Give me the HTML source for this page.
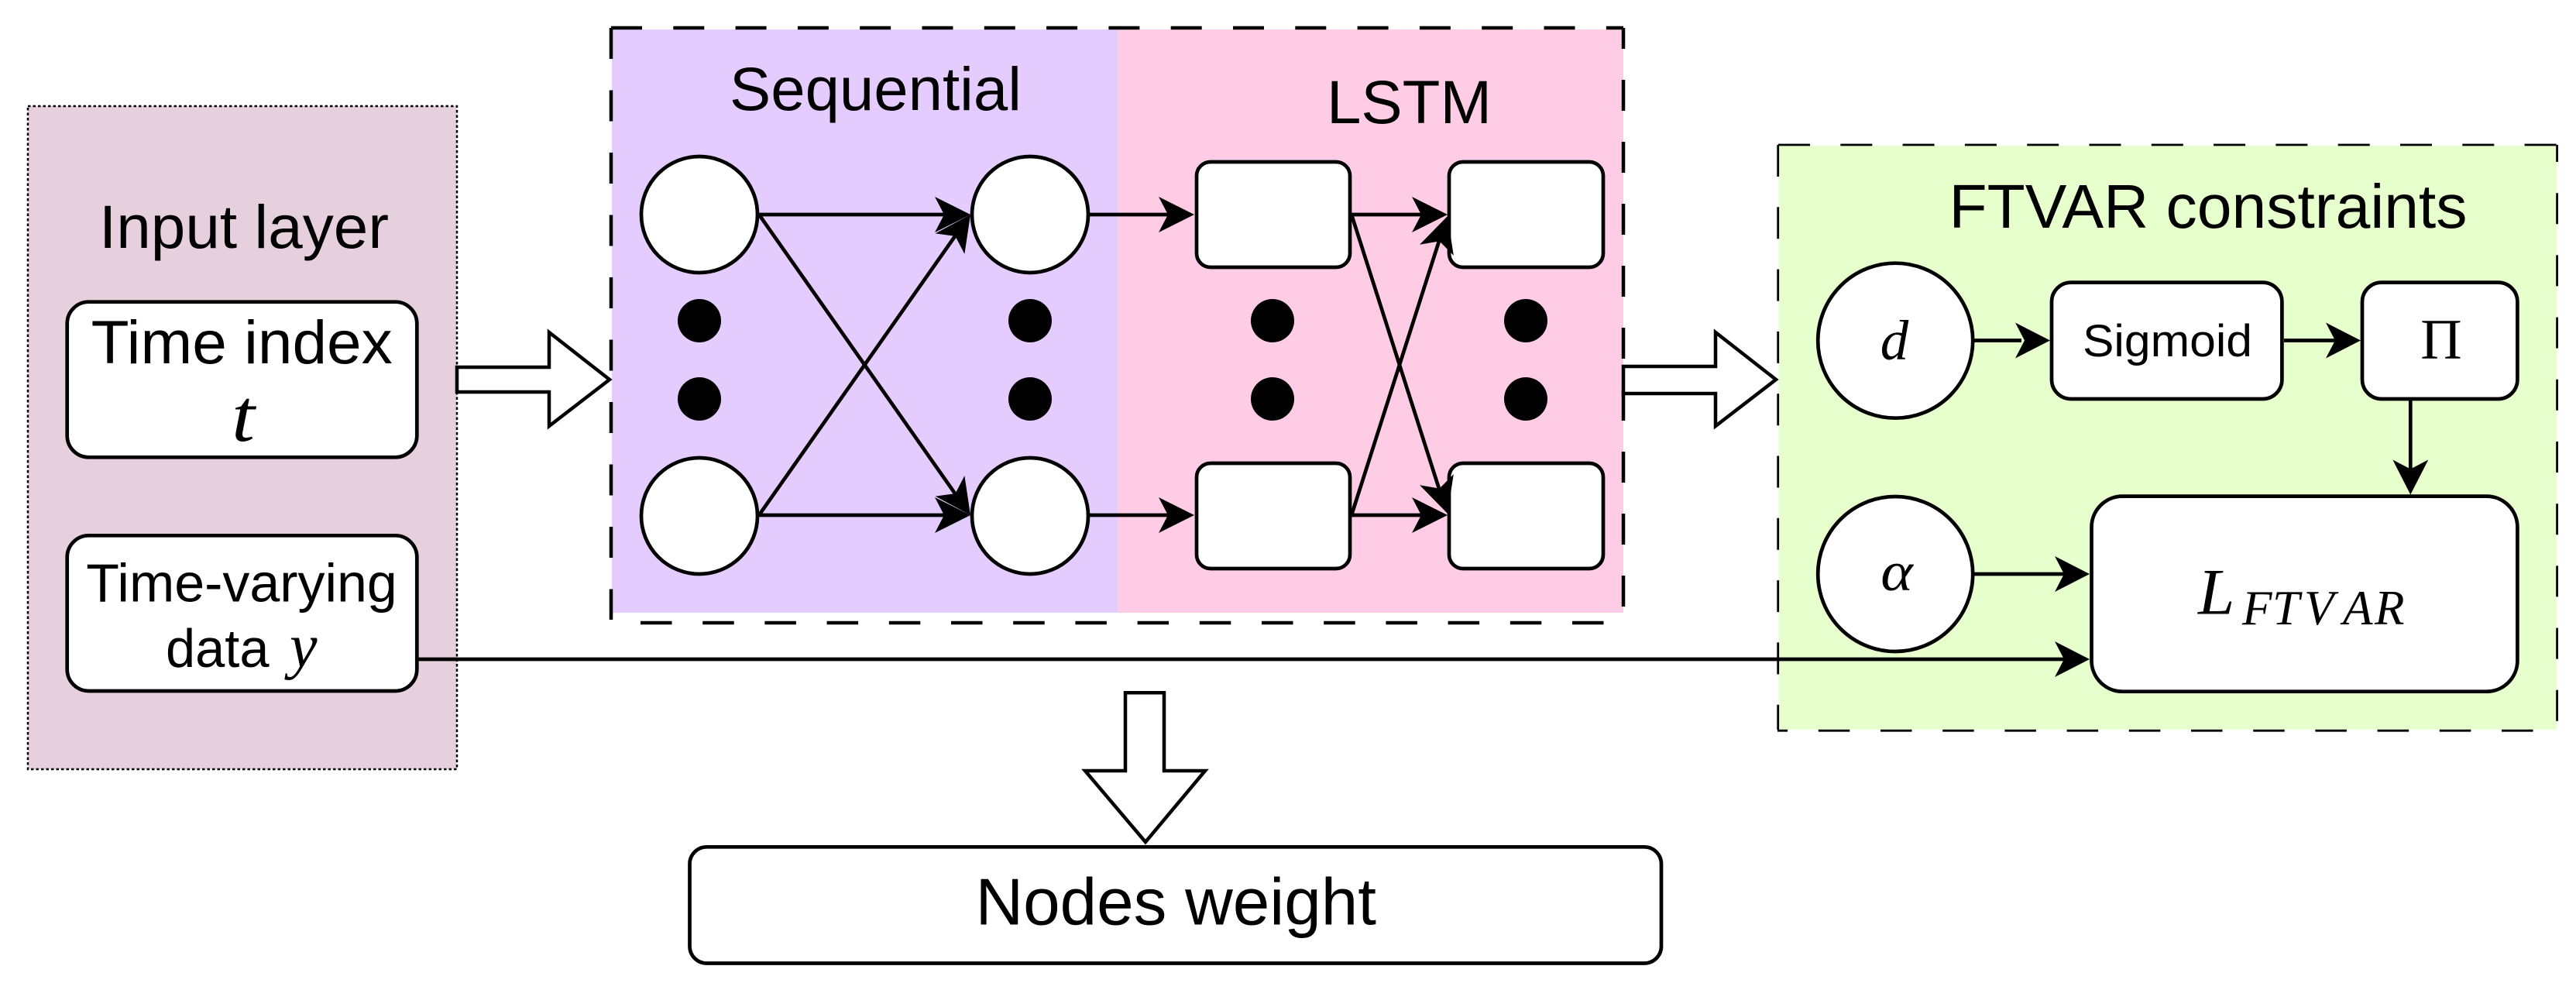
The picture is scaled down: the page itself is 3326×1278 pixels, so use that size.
<!DOCTYPE html>
<html><head><meta charset="utf-8"><style>
html,body{margin:0;padding:0;background:#fff}
svg{display:block}
text{font-family:"Liberation Sans",sans-serif;fill:#000}
.m{font-family:"Liberation Serif",serif;font-style:italic}
</style></head><body>
<svg width="3326" height="1278" viewBox="0 0 3326 1278" xmlns="http://www.w3.org/2000/svg">
<defs>
<path id="a" d="M0 0L-46 -23L-34 0L-46 23Z" fill="#000"/>
<path id="b" d="M0 0L-45 -23L-33 0L-45 23Z" fill="#000"/>
</defs>
<rect width="3326" height="1278" fill="#fff"/>
<!-- panels -->
<rect x="36" y="137" width="554" height="856" fill="#E6D0DE" stroke="#000" stroke-width="2.5" stroke-dasharray="3.5 3"/>
<rect x="790" y="38" width="653" height="753" fill="#E5CCFF"/>
<rect x="1443" y="38" width="653" height="753" fill="#FFCCE6"/>
<rect x="2296.500" y="188" width="1004.500" height="753.700" fill="#E6FFCC"/>
<g stroke="#000" stroke-width="2.800" fill="none">
<path d="M2296 187H3302" stroke-dasharray="41 39.3"/>
<path d="M3301.600 187V942" stroke-dasharray="40 40.2" stroke-dashoffset="18"/>
<path d="M2295 943.200H3302" stroke-dasharray="40.5 39.7" stroke-dashoffset="27.400"/>
<path d="M2295.700 187V942" stroke-dasharray="41 39.3"/>
</g>
<g stroke="#000" stroke-width="4.500" fill="none">
<path d="M789 36H2096" stroke-dasharray="40 40.3"/>
<path d="M2096 36V800" stroke-dasharray="40 40" stroke-dashoffset="13"/>
<path d="M827 804H2096" stroke-dasharray="40.5 39.7"/>
<path d="M789 36V800" stroke-dasharray="40 40.5"/>
</g>
<!-- input layer -->
<text x="128" y="320" font-size="79" textLength="374" lengthAdjust="spacingAndGlyphs">Input layer</text>
<g fill="#fff" stroke="#000" stroke-width="4.700">
<rect x="86.700" y="389.700" width="451.600" height="200.600" rx="28"/>
<rect x="86.700" y="691.300" width="451.600" height="200.700" rx="28"/>
</g>
<text x="117.700" y="469" font-size="79" textLength="389" lengthAdjust="spacingAndGlyphs">Time index</text>
<text class="m" font-size="96" text-anchor="middle" transform="translate(314 569) scale(1.12 1)">t</text>
<text x="111.300" y="776.500" font-size="70" textLength="401.500" lengthAdjust="spacingAndGlyphs">Time-varying</text>
<text x="214" y="861" font-size="70" textLength="133.500" lengthAdjust="spacingAndGlyphs">data</text>
<text class="m" x="374" y="861" font-size="80">y</text>
<!-- hollow arrows -->
<g fill="#fff" stroke="#000" stroke-width="4.500" stroke-miterlimit="10">
<path d="M590 474H709V429L787 490L709 550V506H590Z"/>
<path d="M2096 473H2215V429L2293 490L2215 550V508H2096Z"/>
<path d="M1453 894.300H1503V995H1556L1479 1087L1401 995H1453Z"/>
</g>
<!-- sequential connections -->
<g stroke="#000" stroke-width="4.700" fill="none">
<path d="M980 277H1225M980 665H1225M980 277L1240 647M980 665L1240 295"/>
<path d="M1407 277H1515M1407 665H1515"/>
<path d="M1745 277H1840M1745 665H1840M1745 277L1860 637M1745 665L1860 305"/>
</g>
<g fill="#fff" stroke="#000" stroke-width="4.700">
<circle cx="903" cy="277" r="75"/><circle cx="903" cy="666" r="75"/>
<circle cx="1330" cy="277" r="75"/><circle cx="1330" cy="666" r="75"/>
<rect x="1545" y="209" width="198" height="136" rx="18"/>
<rect x="1545" y="598" width="198" height="136" rx="18"/>
<rect x="1871" y="209" width="199" height="136" rx="18"/>
<rect x="1871" y="598" width="199" height="136" rx="18"/>
</g>
<use href="#a" transform="translate(1253 277)"/>
<use href="#a" transform="translate(1253 665)"/>
<use href="#a" transform="translate(1253 277) rotate(-54.9)"/>
<use href="#a" transform="translate(1253 665) rotate(54.9)"/>
<use href="#a" transform="translate(1542 277)"/>
<use href="#a" transform="translate(1542 665)"/>
<use href="#a" transform="translate(1869 277)"/>
<use href="#a" transform="translate(1869 665)"/>
<use href="#a" transform="translate(1869 279) rotate(-72.2)"/>
<use href="#a" transform="translate(1869 663) rotate(72.2)"/>
<g fill="#000">
<circle cx="903" cy="414" r="28"/><circle cx="903" cy="515" r="28"/>
<circle cx="1330" cy="414" r="28"/><circle cx="1330" cy="515" r="28"/>
<circle cx="1643" cy="414" r="28"/><circle cx="1643" cy="515" r="28"/>
<circle cx="1970" cy="414" r="28"/><circle cx="1970" cy="515" r="28"/>
</g>
<text x="942" y="142" font-size="79" textLength="377" lengthAdjust="spacingAndGlyphs">Sequential</text>
<text x="1713" y="159" font-size="79" textLength="213" lengthAdjust="spacingAndGlyphs">LSTM</text>
<!-- FTVAR -->
<text x="2516.500" y="294" font-size="80" textLength="669" lengthAdjust="spacingAndGlyphs">FTVAR constraints</text>
<g stroke="#000" stroke-width="4.700" fill="none">
<path d="M2548 439.500H2610M2949 439.500H3015M3112.300 517V610M2548 741H2665M537 851H2665"/>
</g>
<g fill="#fff" stroke="#000" stroke-width="4.700">
<circle cx="2447.200" cy="439.700" r="100"/>
<circle cx="2447.200" cy="741" r="100"/>
<rect x="2649" y="364.600" width="297.400" height="150.400" rx="25"/>
<rect x="3050" y="364.600" width="200.400" height="150.400" rx="25"/>
<rect x="2700.500" y="640.600" width="549.900" height="252.100" rx="40"/>
</g>
<use href="#b" transform="translate(2647 439.500)"/>
<use href="#b" transform="translate(3048 439.500)"/>
<use href="#b" transform="translate(3112.300 638.500) rotate(90)"/>
<use href="#b" transform="translate(2698 741)"/>
<use href="#b" transform="translate(2698 851)"/>
<text class="m" x="2446" y="464" font-size="73" text-anchor="middle">d</text>
<text x="2689" y="460" font-size="58" textLength="219" lengthAdjust="spacingAndGlyphs">Sigmoid</text>
<text x="3152" y="463" font-size="74" text-anchor="middle" style="font-family:'Liberation Serif',serif">Π</text>
<text class="m" font-size="72" text-anchor="middle" transform="translate(2449 762) scale(1.1 1)">α</text>
<text class="m" x="2838" y="792.500" font-size="85">L</text>
<text class="m" x="2895 2934 2975 3025 3066" y="806" font-size="63">FTVAR</text>
<!-- nodes weight -->
<rect x="890.500" y="1093.300" width="1254.500" height="150.200" rx="22" fill="#fff" stroke="#000" stroke-width="4.700"/>
<text x="1259.500" y="1193.500" font-size="85" textLength="517.500" lengthAdjust="spacingAndGlyphs">Nodes weight</text>
</svg>
</body></html>
